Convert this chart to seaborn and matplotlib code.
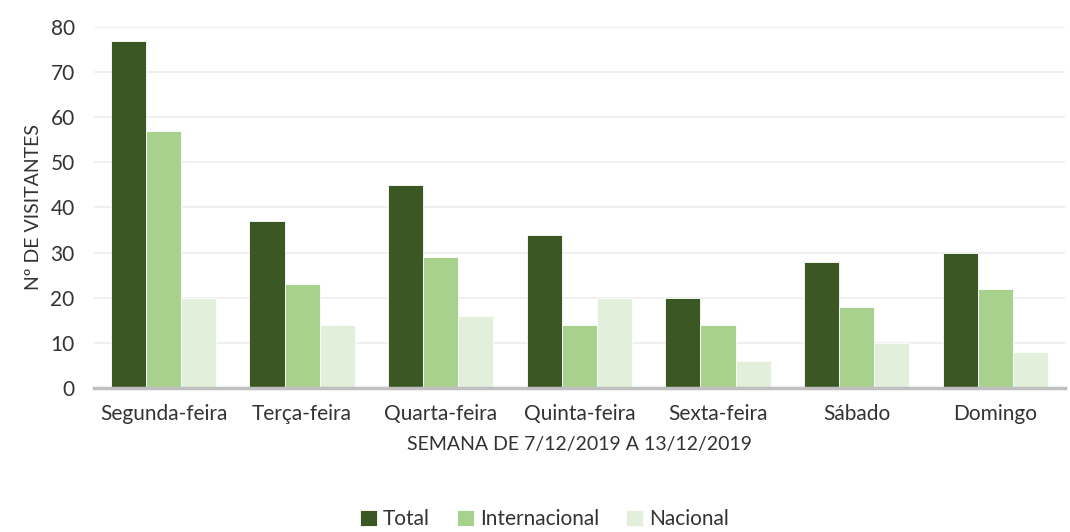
import pandas as pd
import seaborn as sns
import matplotlib.pyplot as plt

dias = ['Segunda-feira', 'Terça-feira', 'Quarta-feira', 'Quinta-feira',
        'Sexta-feira', 'Sábado', 'Domingo']
total = [77, 37, 45, 34, 20, 28, 30]
internacional = [57, 23, 29, 14, 14, 18, 22]
nacional = [20, 14, 16, 20, 6, 10, 8]
series = ['Total', 'Internacional', 'Nacional']
cores = ['#3b5724', '#a9d18e', '#e2efda']

df = pd.DataFrame({'dia': dias, 'Total': total,
                   'Internacional': internacional, 'Nacional': nacional})
df = df.melt(id_vars='dia', var_name='serie', value_name='valor')

sns.set_style('white')
plt.rcParams['font.family'] = ['Lato', 'DejaVu Sans']

fig = plt.figure(figsize=(10.7, 5.32), dpi=100)
ax = fig.add_axes([0.088, 0.271, 0.907, 0.678])
sns.barplot(data=df, x='dia', y='valor', hue='serie', hue_order=series,
            palette=cores, saturation=1, width=0.76, edgecolor='white',
            linewidth=0.6, ax=ax, legend=True)

ax.set_ylim(0, 80)
ax.set_yticks(range(0, 81, 10))
ax.set_xlim(-0.5, 6.5)
ax.yaxis.grid(True, color='#ececec', linewidth=1.2)
ax.set_axisbelow(True)
for s in ['top', 'right', 'left']:
    ax.spines[s].set_visible(False)
ax.spines['bottom'].set_color('#bfbfbf')
ax.spines['bottom'].set_linewidth(2.5)
ax.tick_params(axis='both', length=0, labelsize=15, colors='#333333')
ax.tick_params(axis='x', pad=12)
ax.tick_params(axis='y', pad=14)
ax.set_xlabel('SEMANA DE 7/12/2019 A 13/12/2019', fontsize=14, color='#333333', labelpad=8)
ax.set_ylabel('Nº DE VISITANTES', fontsize=14, color='#333333', labelpad=6)

ax.legend(loc='center', bbox_to_anchor=(0.464, -0.365), ncol=3, frameon=False,
          fontsize=15, handlelength=0.8, handleheight=0.8, handletextpad=0.3,
          columnspacing=1.3, labelcolor='#333333')

fig.savefig('out.png', dpi=100)
